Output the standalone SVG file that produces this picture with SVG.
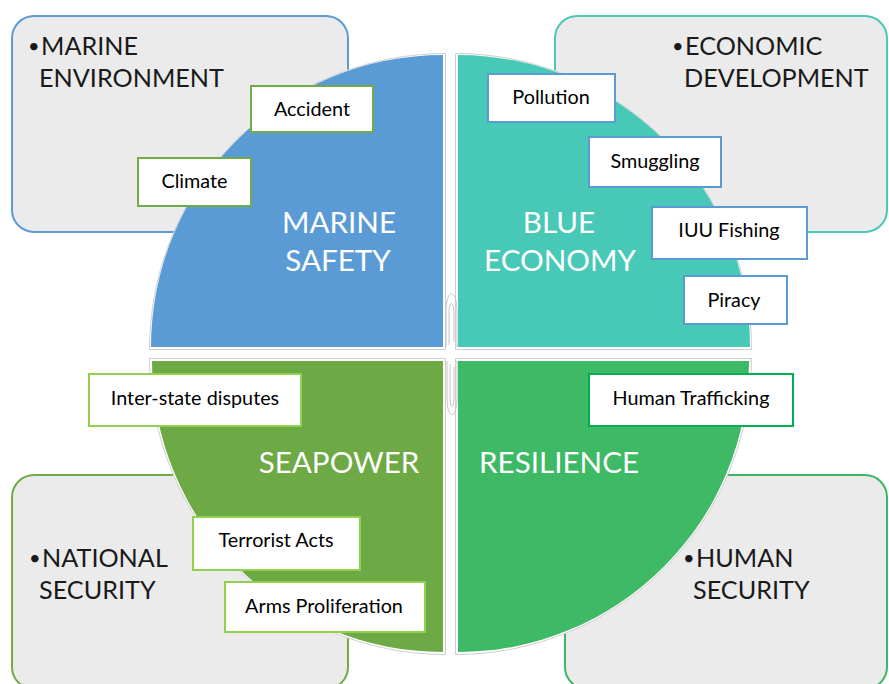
<svg xmlns="http://www.w3.org/2000/svg" width="889" height="684" viewBox="0 0 889 684">
  <style>
    .area { fill: #EBEBEB; stroke-width: 2; }
    .area-text { font-family: Lato, "Liberation Sans", sans-serif; font-size: 25.2px; fill: #1a1a1a; }
    .bullet { font-family: Lato, "Liberation Sans", sans-serif; font-size: 20px; fill: #1a1a1a; }
    .quad-text { font-family: Lato, "Liberation Sans", sans-serif; font-size: 29.6px; fill: #ffffff; text-anchor: middle; }
    .outline { fill: #ffffff; stroke: #cfcfcf; stroke-width: 1; }
    .box { fill: #ffffff; stroke-width: 2; }
    .box-text { font-family: Lato, "Liberation Sans", sans-serif; font-size: 19.8px; fill: #000000; text-anchor: middle; }
    .loop { fill: none; stroke: #c4c4c4; stroke-width: 1; }
  </style>
  <rect width="889" height="684" fill="#ffffff"/>

  <!-- Outer gray areas -->
  <g id="area-marine-environment">
    <rect class="area" x="12" y="16" width="336" height="216" rx="22" stroke="#5B9BD5"/>
    <text class="bullet" x="28" y="53">•</text>
    <text class="area-text" x="41" y="55">MARINE</text>
    <text class="area-text" x="39" y="87">ENVIRONMENT</text>
  </g>
  <g id="area-economic-development">
    <rect class="area" x="555" y="16" width="332" height="216" rx="22" stroke="#4BC8B8"/>
    <text class="bullet" x="672" y="53">•</text>
    <text class="area-text" x="685" y="55">ECONOMIC</text>
    <text class="area-text" x="684" y="87">DEVELOPMENT</text>
  </g>
  <g id="area-national-security">
    <rect class="area" x="12" y="475" width="336" height="214" rx="22" stroke="#70AD47"/>
    <text class="bullet" x="29" y="565">•</text>
    <text class="area-text" x="42" y="567">NATIONAL</text>
    <text class="area-text" x="39" y="599">SECURITY</text>
  </g>
  <g id="area-human-security">
    <rect class="area" x="565" y="475" width="322" height="214" rx="22" stroke="#3DB764"/>
    <text class="bullet" x="683" y="565">•</text>
    <text class="area-text" x="696" y="567">HUMAN</text>
    <text class="area-text" x="693" y="599">SECURITY</text>
  </g>

  <!-- Quadrants -->
  <g id="quad-marine-safety">
    <path class="outline" d="M445.5,349.5 L149.5,349.5 A296,296 0 0 1 445.5,53.5 Z"/>
    <path d="M443,347 L151,347 A292,292 0 0 1 443,55 Z" fill="#5B9BD5"/>
    <text class="quad-text" x="339" y="233">MARINE</text>
    <text class="quad-text" x="338" y="271">SAFETY</text>
  </g>
  <g id="quad-blue-economy">
    <path class="outline" d="M455.5,349.5 L455.5,53.5 A296,296 0 0 1 751.5,349.5 Z"/>
    <path d="M458,347 L458,55 A292,292 0 0 1 750,347 Z" fill="#48C8B7"/>
    <text class="quad-text" x="559" y="233">BLUE</text>
    <text class="quad-text" x="560" y="271">ECONOMY</text>
  </g>
  <g id="quad-seapower">
    <path class="outline" d="M445.5,358.5 L445.5,654.5 A296,296 0 0 1 149.5,358.5 Z"/>
    <path d="M443,361 L443,652 A291,291 0 0 1 152,361 Z" fill="#6DA944"/>
    <text class="quad-text" x="339" y="473">SEAPOWER</text>
  </g>
  <g id="quad-resilience">
    <path class="outline" d="M455.5,358.5 L751.5,358.5 A296,296 0 0 1 455.5,654.5 Z"/>
    <path d="M458,361 L749,361 A291,291 0 0 1 458,652 Z" fill="#3EB965"/>
    <text class="quad-text" x="559" y="473">RESILIENCE</text>
  </g>

  <!-- Center decorative loops -->
  <g id="center-loops">
    <path class="loop" d="M446,347 L446,312 C446,288 457,288 457,312 L457,347"/>
    <path class="loop" d="M449,345 L449,314 C449,300 454,300 454,314 L454,342"/>
    <path class="loop" d="M447,361 L447,398 C447,420 457,420 457,398 L457,361"/>
    <path class="loop" d="M450,364 L450,396 C450,410 454,410 454,396 L454,367"/>
  </g>

  <!-- Issue boxes -->
  <g id="box-accident">
    <rect class="box" x="251" y="86" width="122" height="46" stroke="#70AD47"/>
    <text class="box-text" x="312" y="116">Accident</text>
  </g>
  <g id="box-climate">
    <rect class="box" x="138" y="158" width="113" height="48" stroke="#70AD47"/>
    <text class="box-text" x="194.5" y="188">Climate</text>
  </g>
  <g id="box-pollution">
    <rect class="box" x="488" y="74" width="127" height="48" stroke="#5B9BD5"/>
    <text class="box-text" x="551" y="104">Pollution</text>
  </g>
  <g id="box-smuggling">
    <rect class="box" x="589" y="137" width="132" height="50" stroke="#5B9BD5"/>
    <text class="box-text" x="655" y="168">Smuggling</text>
  </g>
  <g id="box-iuu-fishing">
    <rect class="box" x="652" y="207" width="155" height="52" stroke="#5B9BD5"/>
    <text class="box-text" x="729" y="237">IUU Fishing</text>
  </g>
  <g id="box-piracy">
    <rect class="box" x="684" y="276" width="103" height="48" stroke="#5B9BD5"/>
    <text class="box-text" x="734" y="307">Piracy</text>
  </g>
  <g id="box-inter-state-disputes">
    <rect class="box" x="89" y="374" width="212" height="52" stroke="#92D050"/>
    <text class="box-text" x="195" y="405">Inter-state disputes</text>
  </g>
  <g id="box-terrorist-acts">
    <rect class="box" x="193" y="517" width="167" height="53" stroke="#92D050"/>
    <text class="box-text" x="276" y="547">Terrorist Acts</text>
  </g>
  <g id="box-arms-proliferation">
    <rect class="box" x="225" y="582" width="200" height="50" stroke="#92D050"/>
    <text class="box-text" x="324" y="613">Arms Proliferation</text>
  </g>
  <g id="box-human-trafficking">
    <rect class="box" x="589" y="374" width="204" height="52" stroke="#00B050"/>
    <text class="box-text" x="691" y="405">Human Trafficking</text>
  </g>

  <g id="connectors"></g>
</svg>
